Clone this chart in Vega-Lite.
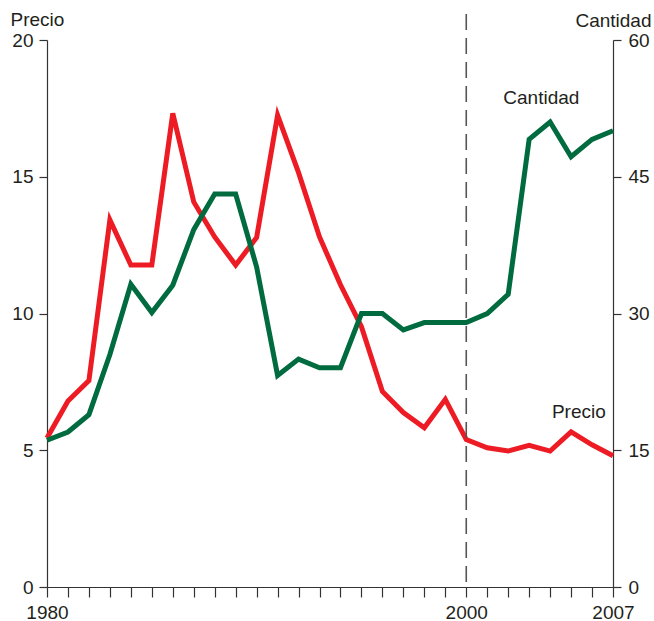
{
  "$schema": "https://vega.github.io/schema/vega-lite/v6.json",
  "width": 566,
  "height": 547,
  "autosize": {"type": "none"},
  "padding": {"left": 47, "top": 40, "right": 41, "bottom": 34},
  "background": "white",
  "config": {
    "view": {"stroke": null},
    "font": "Liberation Sans",
    "axis": {
      "grid": false,
      "domainColor": "#333333",
      "tickColor": "#333333",
      "domainWidth": 1.2,
      "tickWidth": 1.2,
      "labelColor": "#231f20",
      "titleColor": "#231f20",
      "labelFont": "Liberation Sans",
      "titleFont": "Liberation Sans",
      "labelFontSize": 19,
      "titleFontSize": 19,
      "titleFontWeight": "normal"
    }
  },
  "data": {
    "values": [
      {"year": 1980, "precio": 5.45, "cantidad": 16.1},
      {"year": 1981, "precio": 6.8, "cantidad": 17.0},
      {"year": 1982, "precio": 7.55, "cantidad": 18.9},
      {"year": 1983, "precio": 13.42, "cantidad": 25.5},
      {"year": 1984, "precio": 11.77, "cantidad": 33.2},
      {"year": 1985, "precio": 11.77, "cantidad": 30.1},
      {"year": 1986, "precio": 17.32, "cantidad": 33.1},
      {"year": 1987, "precio": 14.08, "cantidad": 39.2},
      {"year": 1988, "precio": 12.8, "cantidad": 43.1},
      {"year": 1989, "precio": 11.77, "cantidad": 43.1},
      {"year": 1990, "precio": 12.78, "cantidad": 35.1},
      {"year": 1991, "precio": 17.25, "cantidad": 23.2},
      {"year": 1992, "precio": 15.15, "cantidad": 25.0},
      {"year": 1993, "precio": 12.8, "cantidad": 24.05},
      {"year": 1994, "precio": 11.05, "cantidad": 24.05},
      {"year": 1995, "precio": 9.52, "cantidad": 30.0},
      {"year": 1996, "precio": 7.15, "cantidad": 30.0},
      {"year": 1997, "precio": 6.38, "cantidad": 28.2},
      {"year": 1998, "precio": 5.82, "cantidad": 29.0},
      {"year": 1999, "precio": 6.86, "cantidad": 29.0},
      {"year": 2000, "precio": 5.39, "cantidad": 29.0},
      {"year": 2001, "precio": 5.09, "cantidad": 30.0},
      {"year": 2002, "precio": 4.97, "cantidad": 32.1},
      {"year": 2003, "precio": 5.18, "cantidad": 49.1},
      {"year": 2004, "precio": 4.97, "cantidad": 51.0},
      {"year": 2005, "precio": 5.67, "cantidad": 47.2},
      {"year": 2006, "precio": 5.2, "cantidad": 49.1},
      {"year": 2007, "precio": 4.8, "cantidad": 50.05}
    ]
  },
  "encoding": {
    "x": {
      "field": "year",
      "type": "quantitative",
      "scale": {"domain": [1980, 2007], "nice": false, "zero": false},
      "axis": {
        "title": null,
        "values": [1980, 1981, 1982, 1983, 1984, 1985, 1986, 1987, 1988, 1989, 1990, 1991, 1992, 1993, 1994, 1995, 1996, 1997, 1998, 1999, 2000, 2001, 2002, 2003, 2004, 2005, 2006, 2007],
        "format": "d",
        "labelExpr": "datum.value == 1980 || datum.value == 2000 || datum.value == 2007 ? datum.label : ''",
        "tickSize": 10,
        "labelPadding": 6,
        "labelFlush": false,
        "labelOverlap": false
      }
    }
  },
  "layer": [
    {
      "encoding": {
        "y": {
          "field": "precio",
          "type": "quantitative",
          "scale": {"domain": [0, 20], "nice": false},
          "axis": {
            "orient": "left",
            "values": [0, 5, 10, 15, 20],
            "tickSize": 8,
            "labelPadding": 6,
            "title": "Precio",
            "titleAngle": 0,
            "titleX": -37,
            "titleY": -15,
            "titleAlign": "left",
            "titleBaseline": "alphabetic"
          }
        }
      },
      "layer": [
        {
          "mark": {"type": "line", "color": "#ED1C24", "strokeWidth": 5}
        },
        {
          "data": {"values": [{"year": 2005.37, "precio": 6.19, "label": "Precio"}]},
          "mark": {"type": "text", "fontSize": 19, "align": "center", "baseline": "alphabetic", "color": "#231f20", "font": "Liberation Sans"},
          "encoding": {"text": {"field": "label"}}
        }
      ]
    },
    {
      "encoding": {
        "y": {
          "field": "cantidad",
          "type": "quantitative",
          "scale": {"domain": [0, 60], "nice": false},
          "axis": {
            "orient": "right",
            "values": [0, 15, 30, 45, 60],
            "tickSize": 8,
            "labelPadding": 7,
            "title": "Cantidad",
            "titleAngle": 0,
            "titleX": 38,
            "titleY": -14,
            "titleAlign": "right",
            "titleBaseline": "alphabetic"
          }
        }
      },
      "layer": [
        {
          "data": {"values": [{"year": 2000, "cantidad": 62.85, "bottom": 0}]},
          "mark": {"type": "rule", "color": "#555555", "strokeWidth": 1.6, "strokeDash": [16, 8]},
          "encoding": {"y2": {"field": "bottom"}}
        },
        {
          "mark": {"type": "line", "color": "#006B3F", "strokeWidth": 5}
        },
        {
          "data": {"values": [{"year": 2003.58, "cantidad": 52.95, "label": "Cantidad"}]},
          "mark": {"type": "text", "fontSize": 19, "align": "center", "baseline": "alphabetic", "color": "#231f20", "font": "Liberation Sans"},
          "encoding": {"text": {"field": "label"}}
        }
      ]
    }
  ],
  "resolve": {"scale": {"y": "independent"}, "axis": {"y": "independent"}}
}
